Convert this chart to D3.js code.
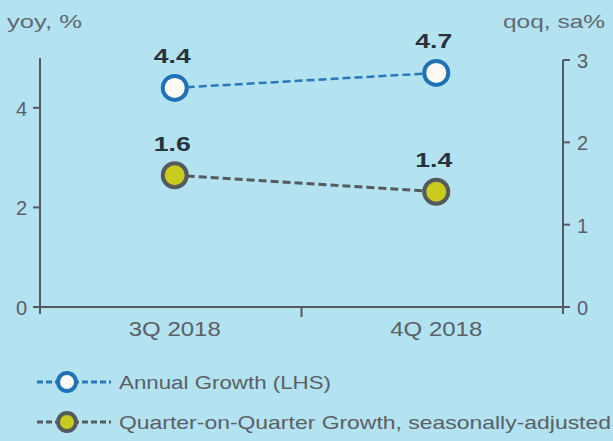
<!DOCTYPE html>
<html>
<head>
<meta charset="utf-8">
<script src="https://cdn.jsdelivr.net/npm/d3@7"></script>
<style>
body{margin:0;background:#b3e2f1;}
svg{display:block;font-family:"Liberation Sans",Arial,sans-serif;}
</style>
</head>
<body>
<div id="chart"></div>
<script>
var w=613, h=441;
var pad={top:58, bottom:134, left:40, right:50};

// data
var quarters=["3Q 2018","4Q 2018"];
var annualGrowth=[4.4,4.7];
var qoqGrowth=[1.6,1.4];
var leftTicks=[0,2,4];
var rightTicks=[0,1,2,3];

var svg=d3.select("#chart").append("svg")
          .attr("width",w)
          .attr("height",h);

svg.append("rect").attr("width",w).attr("height",h).attr("fill","#b3e2f1");

var xScale=d3.scaleBand()
             .domain(quarters)
             .range([pad.left,w-pad.right]);

var yLeft=d3.scaleLinear().domain([0,5]).range([h-pad.bottom,pad.top]);
var yRight=d3.scaleLinear().domain([0,3]).range([h-pad.bottom,pad.top+2]);

var axisColor="#555a60";
var tickColor="#5a6066";

// left axis
var gL=svg.append("g").attr("transform","translate("+pad.left+",0)");
gL.append("line").attr("x1",0).attr("x2",0).attr("y1",yLeft(5)).attr("y2",yLeft(0)+7)
  .attr("stroke",axisColor).attr("stroke-width",2);
gL.selectAll(".t").data(leftTicks).enter().append("line")
  .attr("x1",-7).attr("x2",0).attr("y1",function(d){return yLeft(d);}).attr("y2",function(d){return yLeft(d);})
  .attr("stroke",axisColor).attr("stroke-width",2);
gL.selectAll("text").data(leftTicks).enter().append("text")
  .attr("x",-13).attr("y",function(d){return yLeft(d)+1;})
  .attr("text-anchor","end").attr("dominant-baseline","central")
  .attr("font-size",20).attr("fill",tickColor)
  .text(function(d){return d;});

// right axis
var rx=w-pad.right;
var gR=svg.append("g").attr("transform","translate("+rx+",0)");
gR.append("line").attr("x1",0).attr("x2",0).attr("y1",yRight(3)).attr("y2",yRight(0)+7)
  .attr("stroke",axisColor).attr("stroke-width",2);
gR.selectAll(".t").data(rightTicks).enter().append("line")
  .attr("x1",0).attr("x2",7).attr("y1",function(d){return yRight(d);}).attr("y2",function(d){return yRight(d);})
  .attr("stroke",axisColor).attr("stroke-width",2);
gR.selectAll("text").data(rightTicks).enter().append("text")
  .attr("x",14).attr("y",function(d){return yRight(d)+1;})
  .attr("text-anchor","start").attr("dominant-baseline","central")
  .attr("font-size",20).attr("fill",tickColor)
  .text(function(d){return d;});

// x axis
svg.append("line").attr("x1",pad.left).attr("x2",rx)
   .attr("y1",yLeft(0)).attr("y2",yLeft(0))
   .attr("stroke",axisColor).attr("stroke-width",2);
svg.append("line").attr("x1",xScale(quarters[1])).attr("x2",xScale(quarters[1]))
   .attr("y1",yLeft(0)).attr("y2",yLeft(0)+10)
   .attr("stroke",axisColor).attr("stroke-width",2);

function cx(i){return xScale(quarters[i])+xScale.bandwidth()/2+4;}

svg.selectAll(".xl").data(quarters).enter().append("text")
   .attr("x",function(d,i){return cx(i)-92/2;})
   .attr("y",yLeft(0)+22)
   .attr("dominant-baseline","central")
   .attr("font-size",20).attr("fill",tickColor)
   .attr("textLength",92).attr("lengthAdjust","spacingAndGlyphs")
   .text(function(d){return d;});

// axis titles
svg.append("text").attr("x",7).attr("y",21).attr("font-size",19).attr("fill","#626870")
   .attr("textLength",75).attr("lengthAdjust","spacingAndGlyphs")
   .attr("dominant-baseline","central").text("yoy, %");
svg.append("text").attr("x",503).attr("y",21).attr("font-size",19).attr("fill","#626870")
   .attr("textLength",102).attr("lengthAdjust","spacingAndGlyphs")
   .attr("dominant-baseline","central").text("qoq, sa%");

// annual growth line
svg.append("path")
   .datum(annualGrowth)
   .attr("d",d3.line().x(function(d,i){return cx(i);}).y(function(d){return yLeft(d);}))
   .attr("fill","none").attr("stroke","#2a78b8").attr("stroke-width",2.5).attr("stroke-dasharray","8,4");

// qoq line
svg.append("path")
   .datum(qoqGrowth)
   .attr("d",d3.line().x(function(d,i){return cx(i);}).y(function(d){return yRight(d);}))
   .attr("fill","none").attr("stroke","#555a5e").attr("stroke-width",3).attr("stroke-dasharray","8,4");

// markers
svg.selectAll(".ma").data(annualGrowth).enter().append("circle")
   .attr("cx",function(d,i){return cx(i);}).attr("cy",function(d){return yLeft(d);})
   .attr("r",12).attr("fill","#fdfaf4").attr("stroke","#1f72b5").attr("stroke-width",4);
svg.selectAll(".mq").data(qoqGrowth).enter().append("circle")
   .attr("cx",function(d,i){return cx(i);}).attr("cy",function(d){return yRight(d);})
   .attr("r",12).attr("fill","#c9cc1f").attr("stroke","#555a5e").attr("stroke-width",4);

// value labels
function valueLabels(data,scale,cls){
  svg.selectAll("."+cls).data(data).enter().append("text")
     .attr("x",function(d,i){return cx(i)-3-18;}).attr("y",function(d){return scale(d)-32;})
     .attr("dominant-baseline","central")
     .attr("font-size",21).attr("font-weight","bold").attr("fill","#27323d")
     .attr("textLength",37).attr("lengthAdjust","spacingAndGlyphs")
     .text(function(d){return d.toFixed(1);});
}
valueLabels(annualGrowth,yLeft,"la");
valueLabels(qoqGrowth,yRight,"lq");

// legend
var legend=[
  {label:"Annual Growth (LHS)",len:212,stroke:"#2a78b8",mstroke:"#1f72b5",fill:"#fdfaf4",y:382},
  {label:"Quarter-on-Quarter Growth, seasonally-adjusted",len:492,stroke:"#555a5e",mstroke:"#555a5e",fill:"#c9cc1f",y:422}
];
var lg=svg.selectAll(".lg").data(legend).enter().append("g");
lg.append("line").attr("x1",37).attr("x2",111).attr("y1",function(d){return d.y;}).attr("y2",function(d){return d.y;})
  .attr("stroke",function(d){return d.stroke;}).attr("stroke-width",3).attr("stroke-dasharray","6,3");
lg.append("circle").attr("cx",67).attr("cy",function(d){return d.y;}).attr("r",9)
  .attr("fill",function(d){return d.fill;}).attr("stroke",function(d){return d.mstroke;}).attr("stroke-width",4);
lg.append("text").attr("x",119).attr("y",function(d){return d.y;})
  .attr("dominant-baseline","central").attr("font-size",19).attr("fill","#5a6066")
  .attr("textLength",function(d){return d.len;}).attr("lengthAdjust","spacingAndGlyphs")
  .text(function(d){return d.label;});
</script>
</body>
</html>
